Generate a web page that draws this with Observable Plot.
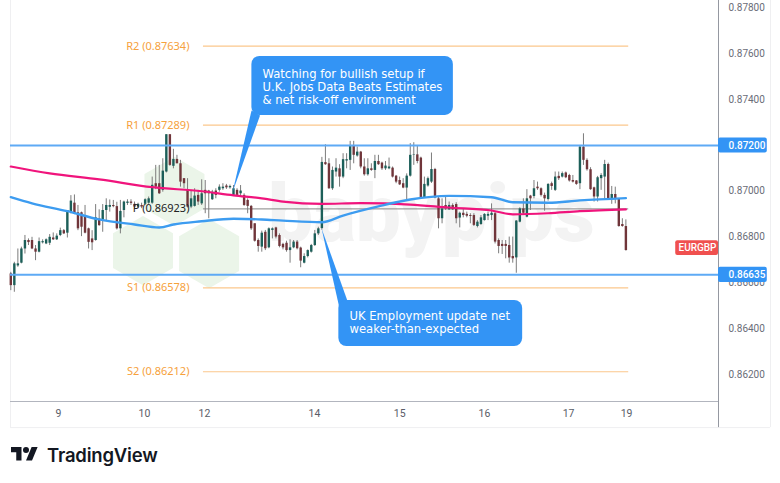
<!DOCTYPE html>
<html>
<head>
<meta charset="utf-8">
<script src="https://cdn.jsdelivr.net/npm/d3@7"></script>
<script src="https://cdn.jsdelivr.net/npm/@observablehq/plot@0.6"></script>
<style>
html,body{margin:0;padding:0;background:#fff;}
#chart svg{display:block;background:#fff;}
#foot{position:relative;height:43px;}
#foot svg{position:absolute;left:11px;top:4px;}
#foot span{position:absolute;left:47px;top:2px;font:600 18.5px Inter,sans-serif;color:#131722;letter-spacing:-0.2px;line-height:26px;}
</style>
</head>
<body>
<div id="chart"></div>
<div id="foot"><svg width="27" height="21" viewBox="0 0 36 28"><path fill="#131722" d="M14 22H7V11H0V4h14v18zM28 22h-8l7.5-18h8L28 22z"/><circle fill="#131722" cx="20" cy="8" r="4"/></svg><span>TradingView</span></div>
<script>
// EUR/GBP hourly candles, prices in units of 0.00001
const opens = [86639,86588,86674,86686,86748,86785,86785,86748,86734,86775,86770,86773,86796,86788,86807,86828,86817,86909,86948,86906,86906,86894,86836,86792,86785,86879,86875,86916,86930,86938,86933,
86836,86916,86947,86953,86943,86931,86938,86943,86948,86948,87033,87033,87004,87084,87247,87109,87139,87120,87055,87007,86931,86934,86982,86945,87004,87001,86963,87001,87004,87011,
87023,87015,86982,87004,86989,86982,86960,86934,86858,86785,86756,86821,86753,86829,86840,86807,86768,86773,86741,86753,86778,86752,86686,86715,86734,86763,86814,86837,
87125,87120,87011,87084,87098,87062,87132,87135,87196,87154,87171,87106,87072,87098,87091,87130,87123,87098,87098,87101,87066,87047,87033,87014,87066,87157,87159,87145,86972,87023,87040,87095,
86967,86880,86938,86919,86938,86942,86883,86904,86899,86894,86894,86846,86855,86872,86891,86894,86902,86785,86768,86768,86763,86715,86709,86865,86923,
86887,86979,86977,87018,87011,86982,86964,87033,87004,87065,87062,87080,87069,87047,87045,87033,87193,87135,87094,87015,86975,87055,87062,87117,86967,86986,86967,86855,86846];
const closes = [86588,86683,86683,86748,86785,86776,86748,86734,86780,86780,86788,86799,86788,86804,86828,86814,86916,86957,86901,86836,86843,86817,86777,86775,86884,86850,86916,86938,86938,86933,86836,
86912,86953,86953,86947,86931,86943,86931,86963,86967,87026,87018,86989,87088,87247,87113,87139,87120,87040,87033,86931,86967,86979,86953,86989,86989,86989,86996,86982,87018,87018,
87015,87021,87011,86982,87001,86938,86934,86836,86782,86759,86817,86749,86836,86836,86800,86759,86753,86741,86753,86778,86749,86695,86715,86741,86763,86814,86836,87126,
87116,87011,87091,87101,87062,87138,87138,87196,87157,87171,87106,87072,87098,87091,87130,87116,87098,87110,87106,87062,87040,87028,87014,87066,87157,87159,87130,86972,87030,87055,87095,86971,
86880,86923,86923,86938,86919,86880,86904,86894,86891,86890,86851,86865,86884,86899,86899,86904,86778,86759,86759,86759,86709,86705,86870,86923,86904,
86967,86967,87011,87011,86982,86967,87030,87021,87062,87055,87077,87059,87045,87040,87030,87193,87135,87094,87007,86975,87059,87069,87117,86967,86986,86967,86846,86846,86741];
const highs = [86646,86690,86748,86756,86807,86792,86799,86763,86796,86788,86792,86811,86818,86814,86839,86833,86916,86981,86984,86938,86909,86938,86839,86828,86942,86919,86942,86967,86962,86960,86952,
86960,86957,86963,86963,86953,86948,86948,86967,86975,87062,87113,87113,87142,87247,87247,87183,87157,87135,87055,87055,87004,87011,87004,87050,87047,87004,87004,87011,87028,87033,
87030,87027,87025,87011,87025,86989,86967,86938,86858,86792,86826,86829,86840,86840,86843,86814,86773,86782,86788,86785,86785,86756,86727,86744,86768,86829,86843,87148,
87203,87142,87106,87142,87116,87164,87164,87218,87218,87193,87174,87142,87142,87120,87157,87157,87127,87130,87145,87106,87069,87062,87055,87076,87208,87212,87200,87149,87062,87062,87167,87100,
86977,86967,86974,86953,86945,86950,86909,86923,86909,86902,86902,86872,86894,86902,86909,86945,86909,86792,86785,86785,86800,86800,86872,86928,86967,
87007,86982,87047,87040,87015,86992,87033,87040,87084,87084,87084,87084,87074,87069,87047,87200,87251,87142,87103,87018,87065,87077,87135,87123,87021,87018,86967,86880,86875];
const lows = [86566,86559,86668,86683,86726,86763,86745,86697,86731,86770,86767,86763,86785,86785,86802,86811,86796,86901,86898,86828,86802,86814,86748,86741,86782,86847,86821,86872,86909,86928,86831,
86814,86884,86938,86938,86924,86924,86924,86938,86943,86943,87007,86986,86996,87080,87109,87098,87120,87018,87011,86927,86924,86931,86938,86938,86902,86880,86960,86967,86996,87004,
87008,87009,86977,86977,86974,86934,86902,86829,86778,86734,86734,86741,86749,86792,86792,86753,86744,86734,86686,86749,86744,86666,86683,86709,86730,86759,86807,86830,
87113,87008,87004,87062,87018,87055,87098,87091,87120,87149,87098,87066,87066,87087,87055,87113,87091,87091,87094,87058,87033,87025,87011,86960,87062,87113,87120,86972,86972,87018,87034,86967,
86836,86858,86916,86916,86916,86858,86840,86884,86884,86858,86846,86840,86851,86870,86872,86872,86770,86727,86724,86705,86686,86686,86642,86862,86894,
86884,86916,86967,87004,86975,86913,86957,87004,86999,87047,87058,87055,87040,87036,87026,87007,87113,87088,87004,86953,86953,87004,86963,86963,86943,86945,86843,86843,86739];

const pinkAt = [0,11,25,40,54,63,71,77,88,99,113,124,136,142,152,161,174];
const pinkVal = [87108,87078,87052,87018,87000,86982,86969,86955,86945,86948,86942,86929,86916,86899,86904,86913,86921];
const blueAt = [0,6,16,25,35,42,46,54,63,71,77,88,94,104,113,124,136,142,152,161,174];
const blueVal = [86974,86947,86913,86877,86855,86842,86855,86869,86880,86877,86872,86865,86894,86934,86964,86980,86974,86952,86950,86960,86970];

const priceTicks = [0.878,0.876,0.874,0.872,0.870,0.868,0.866,0.864,0.862];
const dayLabels = ["9","10","12","14","15","16","17","19"];
const dayAt = [13.5,37.8,54.8,85.9,110,134,157.8,174.2];

const levels = [0.872,0.86635];
const pivotNames = ["R2","R1","P","S1","S2"];
const pivotVals = [0.87634,0.87289,0.86923,0.86578,0.86212];
const pivotFrom = 54.5, pivotTo = 174.8;

const upColor = "#1c5f59", downColor = "#70353a", wickColor = "#7c7c7c";
const blue = "#3394f5";

const candles = opens.map((o,i)=>({i,o:o/1e5,c:closes[i]/1e5,h:highs[i]/1e5,l:lows[i]/1e5,up:closes[i]>=o}));
const pink = pinkAt.map((i,k)=>({i,v:pinkVal[k]/1e5}));
const bluePts = blueAt.map((i,k)=>({i,v:blueVal[k]/1e5}));
const pivots = pivotNames.map((n,k)=>({n,v:pivotVals[k]}));

const xMin=-0.085, xAxis=200.2, xBadge=214, xEdge=214.9;
const yTop=0.87833, yBottom=0.86082, yFrame=0.85968;

const callouts = [
 {x1:68.2,x2:125.2,y1:0.87589,y2:0.87331,tx:71.2,ty:0.87458,text:"Watching for bullish setup if\nU.K. Jobs Data Beats Estimates\n& net risk-off environment"},
 {x1:92.8,x2:144.8,y1:0.86523,y2:0.86322,tx:95.8,ty:0.86427,text:"UK Employment update net\nweaker-than-expected"}
];
const tail1 = [[68.1,0.87353],[70.5,0.87331],[62.7,0.86995]];
const tail2 = [[93,0.86488],[95.2,0.86523],[87.9,0.86838]];
const hexes = [[46.3,0.87000],[37.4,0.86741],[56.1,0.86728]];

const ff = "Roboto, sans-serif", cf = "'DejaVu Sans', sans-serif", pf = "'Noto Sans', sans-serif";

const plot = Plot.plot({
  width:780, height:440,
  marginLeft:10, marginRight:62, marginTop:0, marginBottom:39,
  style:{fontFamily:ff, background:"#fff"},
  x:{type:"linear", domain:[xMin,xAxis], axis:null},
  y:{type:"linear", domain:[yBottom,yTop], axis:null},
  marks:[
    // watermark
    Plot.dot(hexes,{x:d=>d[0],y:d=>d[1],symbol:"hexagon",r:30,fill:"#ebf5e9",stroke:"none"}),
    Plot.text(["babypips"],{x:[119],y:[0.86895],text:d=>d,fontSize:80,fontWeight:900,fill:"#f3f3f3",fontFamily:ff}),
    // frame
    Plot.ruleX([xMin],{y1:yTop,y2:yFrame,stroke:"#efeff1"}),
    Plot.ruleX([xEdge],{y1:yTop,y2:yFrame,stroke:"#efeff1"}),
    Plot.ruleY([yFrame],{x1:xMin,x2:xEdge,stroke:"#efeff1"}),
    Plot.ruleY([yBottom],{x1:xMin,x2:xAxis,stroke:"#b2b5be"}),
    Plot.ruleX([xAxis],{y1:yTop,y2:yFrame,stroke:"#9598a1"}),
    // axes
    Plot.axisY({anchor:"right",ticks:priceTicks,tickSize:0,tickPadding:10,tickFormat:d3.format(".5f"),label:null,fontSize:10,fill:"#6a6d78",fontFamily:ff}),
    Plot.axisX({anchor:"bottom",ticks:dayAt,tickSize:0,tickPadding:8,tickFormat:d=>dayLabels[dayAt.indexOf(d)],label:null,fontSize:10.5,fill:"#5a5d68",fontFamily:ff}),
    // pivots
    Plot.ruleY(pivots.filter(d=>d.n!=="P"),{y:"v",x1:pivotFrom,x2:pivotTo,stroke:"#fbc78c",strokeWidth:1.2}),
    Plot.ruleY(pivots.filter(d=>d.n==="P"),{y:"v",x1:pivotFrom,x2:pivotTo,stroke:"#868686",strokeWidth:1}),
    // candles
    Plot.ruleX(candles,{x:"i",y1:"l",y2:"h",stroke:wickColor,strokeWidth:1}),
    Plot.ruleX(candles,{x:"i",y1:"o",y2:"c",stroke:d=>d.up?upColor:downColor,strokeWidth:2.4}),
    // levels
    Plot.ruleY(levels,{x1:xMin,x2:xAxis,stroke:"#5eaaf5",strokeWidth:2}),
    // moving averages
    Plot.line(pink,{x:"i",y:"v",stroke:"#f0147c",strokeWidth:2.2,curve:"monotone-x"}),
    Plot.line(bluePts,{x:"i",y:"v",stroke:"#3d9cf0",strokeWidth:2.4,curve:"monotone-x"}),
    // pivot labels
    Plot.text(pivots,{x:pivotFrom,dx:-14,y:"v",text:d=>`${d.n} (${d.v.toFixed(5)})`,textAnchor:"end",fontSize:11,fill:d=>d.n==="P"?"#222":"#f6a13c",fontFamily:pf}),
    // callouts
    Plot.line(tail1,{x:d=>d[0],y:d=>d[1],fill:blue,stroke:"none"}),
    Plot.line(tail2,{x:d=>d[0],y:d=>d[1],fill:blue,stroke:"none"}),
    Plot.rect(callouts,{x1:"x1",x2:"x2",y1:"y1",y2:"y2",fill:blue,rx:8}),
    Plot.text(callouts,{x:"tx",y:"ty",text:"text",textAnchor:"start",fill:"#fff",fontSize:11.6,lineHeight:1.12,fontFamily:cf}),
    // price badges
    Plot.rect(levels,{x1:xAxis,x2:xBadge,y1:d=>d+0.00033,y2:d=>d-0.00033,fill:blue,rx:2}),
    Plot.text(levels,{x:xAxis,dx:10,y:d=>d,text:d=>d.toFixed(5),textAnchor:"start",fill:"#fff",fontSize:10,fontWeight:500,fontFamily:ff}),
    Plot.rect(["EURGBP"],{x1:[188.1],x2:[xAxis],y1:[0.86784],y2:[0.86720],fill:"#f0504f",rx:2}),
    Plot.text(["EURGBP"],{x:[xAxis],dx:-21,y:[0.86752],text:d=>d,fill:"#fff",fontSize:10,fontWeight:500,fontFamily:ff})
  ]
});
document.getElementById("chart").append(plot);
</script>
</body>
</html>
